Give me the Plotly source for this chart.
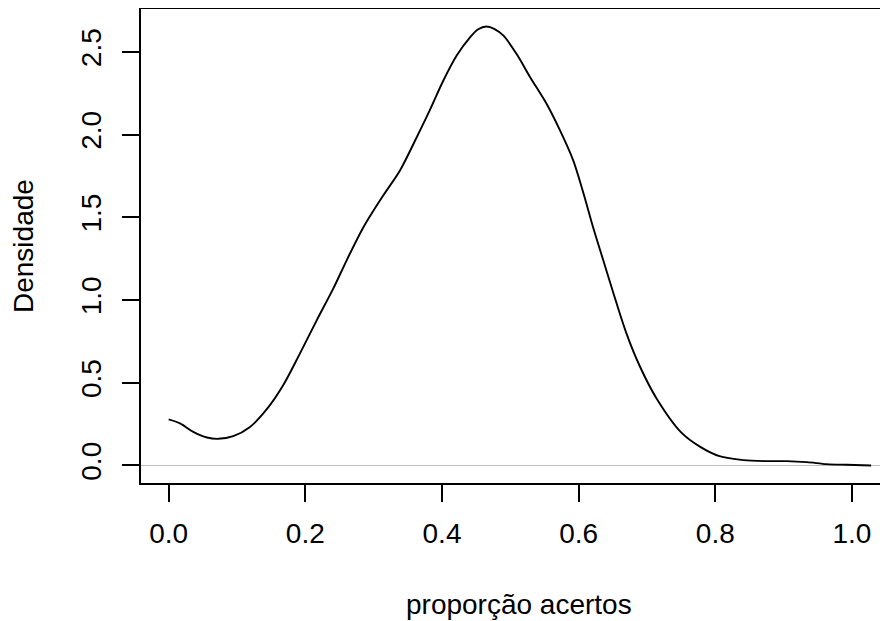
import plotly.graph_objects as go

# density curve of "proporção acertos"
prop_x = [0.0, 0.0165, 0.036, 0.056, 0.0726, 0.0945, 0.119, 0.143, 0.168, 0.192,
          0.2166, 0.241, 0.2605, 0.285, 0.314, 0.3385, 0.363, 0.382, 0.402, 0.4215,
          0.441, 0.453, 0.465, 0.477, 0.49, 0.509, 0.529, 0.553, 0.5727, 0.592,
          0.607, 0.621, 0.636, 0.651, 0.670, 0.690, 0.714, 0.75, 0.778, 0.806,
          0.841, 0.875, 0.904, 0.934, 0.963, 0.992, 1.028]
dens_y = [0.278, 0.254, 0.203, 0.169, 0.161, 0.177, 0.233, 0.337, 0.488, 0.676,
          0.877, 1.07, 1.24, 1.44, 1.632, 1.783, 1.984, 2.146, 2.327, 2.478,
          2.588, 2.637, 2.653, 2.638, 2.598, 2.488, 2.347, 2.186, 2.025, 1.844,
          1.645, 1.441, 1.24, 1.039, 0.797, 0.595, 0.405, 0.20, 0.112, 0.056,
          0.032, 0.026, 0.026, 0.02, 0.008, 0.004, 0.0]

x_ticks = [0.0, 0.2, 0.4, 0.6, 0.8, 1.0]
x_ticklabels = ["0.0", "0.2", "0.4", "0.6", "0.8", "1.0"]
y_ticks = [0.0, 0.5, 1.0, 1.5, 2.0, 2.5]
y_ticklabels = ["0.0", "0.5", "1.0", "1.5", "2.0", "2.5"]

x_title = "proporção acertos"
y_title = "Densidade"

FONT = "Liberation Sans, Arial, Helvetica, sans-serif"
FS = 28

fig = go.Figure()
fig.add_trace(go.Scatter(x=prop_x, y=dens_y, mode="lines",
                         line=dict(color="black", width=1.9, shape="spline", smoothing=0.9),
                         hoverinfo="skip", showlegend=False))

ymin, ymax = min(dens_y), max(dens_y)
pad = 0.04 * (ymax - ymin)

# page body has an 8px default margin: figure sized/offset to compensate
fig.update_layout(
    width=880, height=613,
    margin=dict(l=133, r=0, t=1, b=138, pad=0),
    paper_bgcolor="white", plot_bgcolor="white",
    font=dict(family=FONT, size=FS, color="black"),
    xaxis=dict(range=[-0.0405, 1.0527], tickvals=x_ticks, ticktext=x_ticklabels,
               ticks="outside", ticklen=17, tickwidth=1.5, tickcolor="black",
               showline=True, linecolor="black", linewidth=2, mirror=True,
               showgrid=False, zeroline=False, ticklabelstandoff=7,
               tickfont=dict(family=FONT, size=FS)),
    yaxis=dict(range=[ymin - pad, ymax + pad], tickvals=y_ticks, ticktext=y_ticklabels,
               ticks="outside", ticklen=17, tickwidth=1.5, tickcolor="black",
               showline=True, linecolor="black", linewidth=2,
               showgrid=False, zeroline=True, zerolinecolor="#bebebe", zerolinewidth=1,
               tickangle=-90, ticklabelstandoff=10,
               tickfont=dict(family=FONT, size=FS)),
    annotations=[
        dict(text=x_title, xref="paper", yref="paper", x=0.5064, y=0,
             xanchor="center", yanchor="top", yshift=-104, showarrow=False,
             font=dict(family=FONT, size=FS)),
        dict(text=y_title, xref="paper", yref="paper", x=0, y=0.5,
             xanchor="center", yanchor="middle", xshift=-118, textangle=-90,
             showarrow=False, font=dict(family=FONT, size=FS)),
    ],
)

fig.write_html("out.html")
